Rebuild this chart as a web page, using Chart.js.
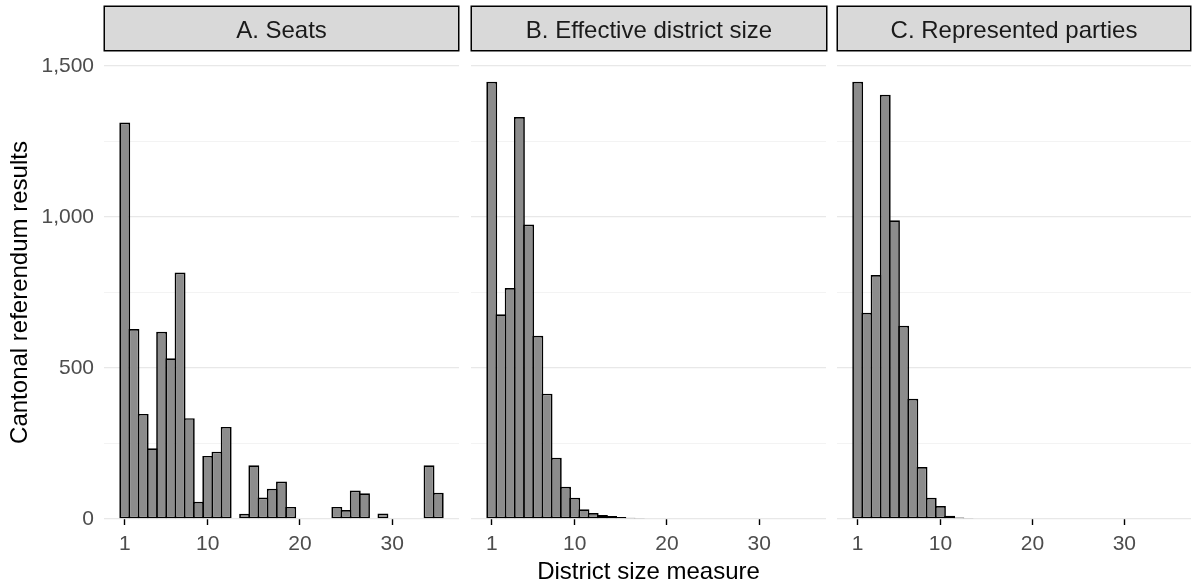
<!DOCTYPE html>
<html><head><meta charset="utf-8">
<script src="https://cdn.jsdelivr.net/npm/chart.js@4"></script>
<style>
body{margin:0;background:#fff;}
#wrap{position:relative;width:1192px;height:588px;overflow:hidden;font-family:"Liberation Sans",Arial,sans-serif;background:#fff;}
canvas{position:absolute;top:0;}
.strip{position:absolute;top:6px;height:45px;box-sizing:border-box;background:#d9d9d9;border:1px solid #000;box-shadow:0 0 0 0.5px #000;display:flex;align-items:center;justify-content:center;color:#1a1a1a;font-size:24px;padding-top:2px;white-space:nowrap;}
</style>
</head><body>
<div id="wrap">
  <canvas id="cA" width="459" height="588" style="left:0px"></canvas>
  <canvas id="cB" width="355" height="588" style="left:471px"></canvas>
  <canvas id="cC" width="354" height="588" style="left:837px"></canvas>
  <div class="strip" style="left:104px;width:355px">A. Seats</div>
  <div class="strip" style="left:471px;width:356px">B. Effective district size</div>
  <div class="strip" style="left:837px;width:354px">C. Represented parties</div>
</div>
<script>
// ---- data ----
const panelTitles = ["A. Seats", "B. Effective district size", "C. Represented parties"];
const binsSeats   = [1, 2, 3, 4, 5, 6, 7, 8, 9, 10, 11, 12, 14, 15, 16, 17, 18, 19, 24, 25, 26, 27, 29, 34, 35];
const countsSeats = [1313, 629, 348, 234, 620, 532, 816, 334, 57, 209, 223, 305, 17, 178, 71, 100, 124, 40, 40, 30, 94, 85, 18, 178, 87];
const binsEffective   = [1, 2, 3, 4, 5, 6, 7, 8, 9, 10, 11, 12, 13, 14, 15, 16, 17];
const countsEffective = [1448, 678, 765, 1331, 975, 607, 415, 203, 107, 70, 32, 20, 13, 10, 7, 4, 3];
const binsParties   = [1, 2, 3, 4, 5, 6, 7, 8, 9, 10, 11, 12, 13];
const countsParties = [1448, 683, 808, 1405, 989, 640, 398, 172, 70, 43, 11, 5, 2];
const xTicks = [1, 10, 20, 30];
const yTicks = [0, 500, 1000, 1500];
const xTitle = "District size measure";
const yTitle = "Cantonal referendum results";

const FONT = '"Liberation Sans", Arial, sans-serif';

function makeChart(id, bins, counts, showY, showXTitle) {
  return new Chart(document.getElementById(id), {
    type: 'bar',
    data: {
      datasets: [{
        data: bins.map((b, i) => ({x: b, y: counts[i]})),
        backgroundColor: '#8c8c8c',
        borderColor: '#000000',
        borderWidth: 1.7,
        borderSkipped: false,
        barPercentage: 1.184,
        categoryPercentage: 1.0
      }]
    },
    options: {
      responsive: false,
      animation: false,
      events: [],
      layout: {padding: {top: 66, left: 0, right: 0, bottom: 0}},
      plugins: {legend: {display: false}, tooltip: {enabled: false}},
      scales: {
        x: {
          type: 'linear', min: -1.25, max: 37.25, offset: false,
          afterBuildTicks: s => { s.ticks = xTicks.map(v => ({value: v})); },
          afterFit: s => { s.height = 69; },
          grid: {display: true, drawOnChartArea: false, drawTicks: true, tickLength: 6,
                 tickColor: '#000', tickWidth: 1.4, offset: false},
          border: {display: false},
          ticks: {font: {family: FONT, size: 21}, color: '#4d4d4d', padding: 7,
                  maxRotation: 0, autoSkip: false},
          title: {display: showXTitle, text: xTitle, color: '#000',
                  font: {family: FONT, size: 24}, padding: {top: 0, bottom: 1}}
        },
        y: {
          min: 0, max: 1500,
          afterBuildTicks: s => {
            const t = [];
            for (let v = 0; v <= 1500; v += 250) t.push({value: v});
            s.ticks = t;
          },
          afterFit: s => { s.width = showY ? 104 : 0; },
          grid: {
            drawTicks: false,
            color: c => (yTicks.includes(c.tick.value) ? '#e8e8e8' : '#f2f2f2'),
            lineWidth: c => (yTicks.includes(c.tick.value) ? 1.3 : 0.9)
          },
          border: {display: false},
          ticks: {
            display: showY, padding: 10, color: '#4d4d4d',
            font: {family: FONT, size: 21},
            callback: v => (yTicks.includes(v) ? v.toLocaleString('en-US') : '')
          },
          title: {display: showY, text: yTitle, color: '#000',
                  font: {family: FONT, size: 24}, padding: {top: 6, bottom: 0}}
        }
      }
    }
  });
}

makeChart('cA', binsSeats, countsSeats, true, false);
makeChart('cB', binsEffective, countsEffective, false, true);
makeChart('cC', binsParties, countsParties, false, false);
</script>
</body></html>
